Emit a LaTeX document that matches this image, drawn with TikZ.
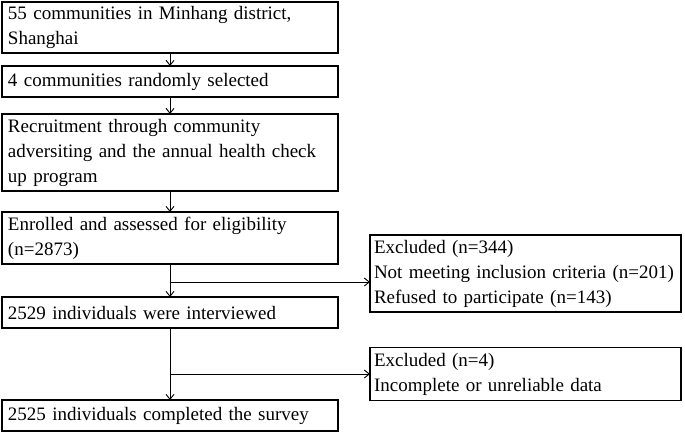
\documentclass[tikz,border=0pt]{standalone}
\usepackage{fontspec}
\setmainfont{Liberation Serif}
\usetikzlibrary{positioning,arrows.meta}
\tikzstyle{arrow} = [line width=0.9pt, -{Straight Barb[length=5pt,width=8pt]}]
\tikzstyle{flowbox} = [
    rectangle,                 % Shape
    draw=black,                % Border color
    line width=1.5pt,          % Slightly thicker border
    text width=324pt,          % Width of the text
    inner xsep=6pt,
    inner ysep=1pt,
    outer sep=0pt,
    align=left,                % Left aligned text
    font=\fontsize{19}{25}\selectfont
]
\tikzstyle{exclbox} = [flowbox, text width=303pt, inner xsep=4pt]

\begin{document}
\begin{tikzpicture}[x=1pt, y=1pt]
		\useasboundingbox (0,0) rectangle (685,-432);

		% Main column
		\node[flowbox, anchor=north west, minimum height=51pt] (communities) at (2,-2) {55 communities in Minhang district,\\Shanghai};
		\node[flowbox, below=13pt of communities, minimum height=31pt] (selected) {4 communities randomly selected};
		\node[flowbox, below=17pt of selected, minimum height=77pt] (recruit) {Recruitment through community\\adversiting and the annual health check\\up program};
		\node[flowbox, below=21pt of recruit, minimum height=52pt] (enrolled) {Enrolled and assessed for eligibility\\(n=2873)};
		\node[flowbox, below=33pt of enrolled, minimum height=31pt] (interviewed) {2529 individuals were interviewed};
		\node[flowbox, below=72pt of interviewed, minimum height=31pt] (completed) {2525 individuals completed the survey};

		% Exclusion boxes
		\coordinate[below=18pt of enrolled.south] (split1);
		\node[exclbox, right=200pt of split1, yshift=8.5pt, minimum height=77pt] (excl1) {Excluded (n=344)\\Not meeting inclusion criteria (n=201)\\Refused to participate (n=143)};
		\coordinate[below=46pt of interviewed.south] (split2);
		\node[exclbox, right=200pt of split2, minimum height=53pt] (excl2) {Excluded (n=4)\\Incomplete or unreliable data};

		% Arrows
		\draw[arrow] (communities) -- (selected);
		\draw[arrow] (selected) -- (recruit);
		\draw[arrow] (recruit) -- (enrolled);
		\draw[arrow] (enrolled) -- (interviewed);
		\draw[arrow] (interviewed) -- (completed);
		\draw[arrow] (split1) -- (excl1.west |- split1);
		\draw[arrow] (split2) -- (excl2.west |- split2);
	\end{tikzpicture}
\end{document}
